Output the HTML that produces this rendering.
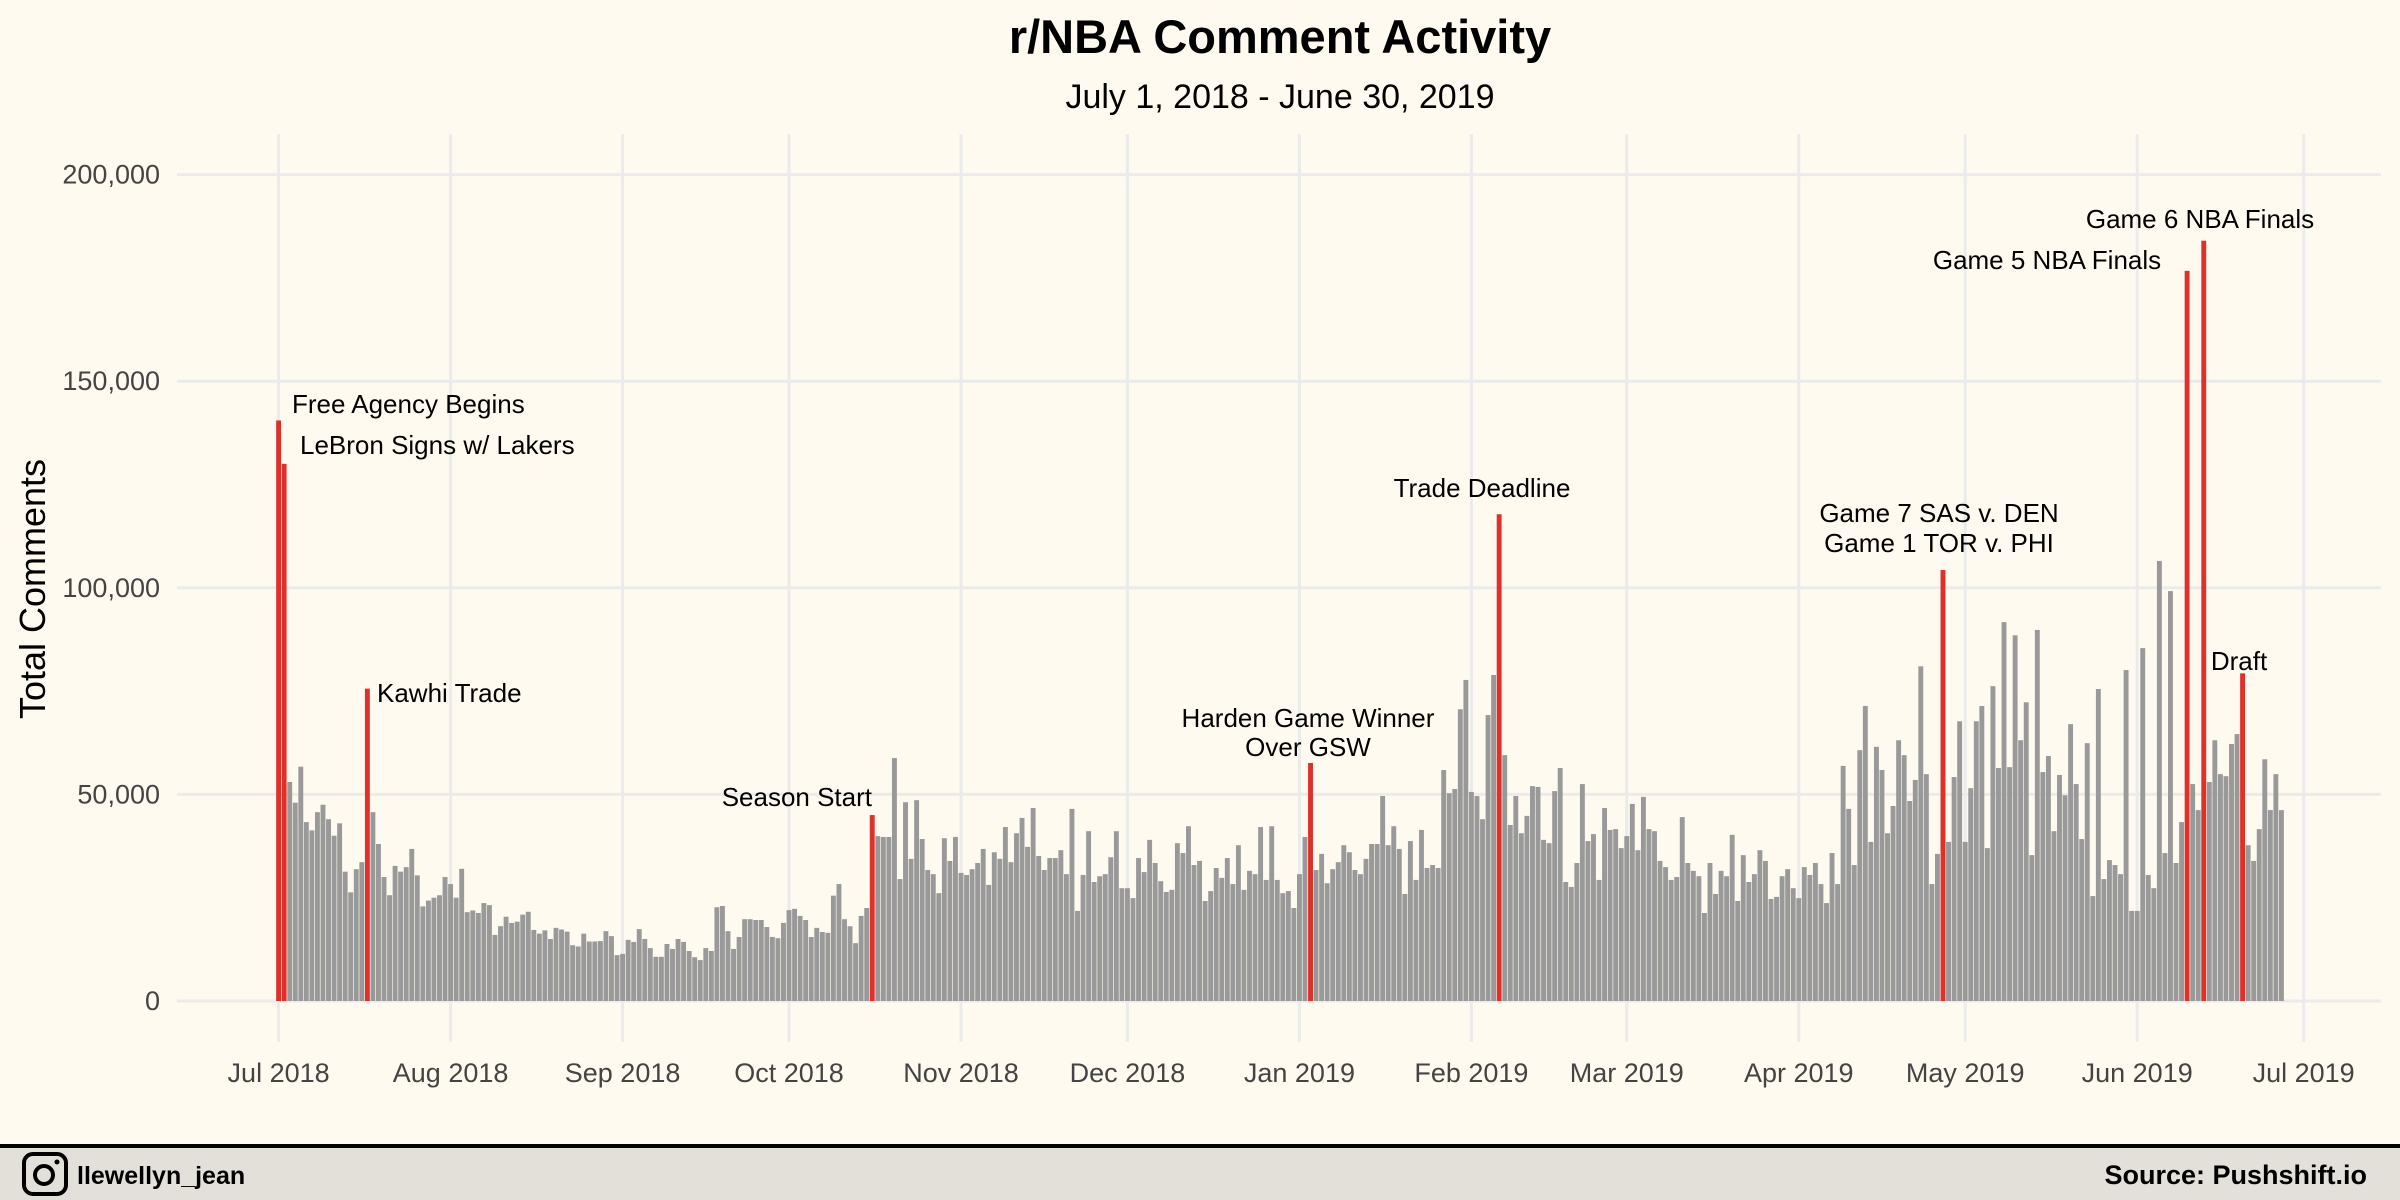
<!DOCTYPE html>
<html><head><meta charset="utf-8"><style>
html,body{margin:0;padding:0;background:#fffaf0;}
svg{display:block;font-family:"Liberation Sans",sans-serif;}
</style></head><body>
<svg id="chart" width="2400" height="1200" viewBox="0 0 2400 1200" xmlns="http://www.w3.org/2000/svg">
<rect x="0" y="0" width="2400" height="1200" fill="#fffaf0"/>
<g id="grid"></g>
<g id="bars"></g>
<g id="axes"></g>
<text x="1280" y="53" text-anchor="middle" font-size="47" font-weight="bold" fill="#000">r/NBA Comment Activity</text>
<text x="1280" y="108" text-anchor="middle" font-size="34" fill="#000">July 1, 2018 - June 30, 2019</text>
<text transform="translate(45,589) rotate(-90)" text-anchor="middle" font-size="36" fill="#000">Total Comments</text>
<g id="annotations" font-size="26" fill="#000">
<text x="292" y="413">Free Agency Begins</text>
<text x="300" y="454">LeBron Signs w/ Lakers</text>
<text x="377" y="702">Kawhi Trade</text>
<text x="872" y="806" text-anchor="end">Season Start</text>
<text x="1308" y="727" text-anchor="middle">Harden Game Winner</text>
<text x="1308" y="756" text-anchor="middle">Over GSW</text>
<text x="1482" y="497" text-anchor="middle">Trade Deadline</text>
<text x="1939" y="522" text-anchor="middle">Game 7 SAS v. DEN</text>
<text x="1939" y="552" text-anchor="middle">Game 1 TOR v. PHI</text>
<text x="2047" y="269" text-anchor="middle">Game 5 NBA Finals</text>
<text x="2200" y="228" text-anchor="middle">Game 6 NBA Finals</text>
<text x="2239" y="670" text-anchor="middle">Draft</text>
</g>
<rect x="0" y="1144" width="2400" height="4" fill="#000"/>
<rect x="0" y="1148" width="2400" height="52" fill="#e3e0da"/>
<g>
<rect x="24" y="1154" width="42" height="40" rx="9" fill="none" stroke="#000" stroke-width="4"/>
<circle cx="44" cy="1175" r="9" fill="none" stroke="#000" stroke-width="4"/>
<circle cx="57" cy="1162" r="2.5" fill="#000"/>
</g>
<text x="77" y="1184" font-size="25" font-weight="bold" fill="#000">llewellyn_jean</text>
<text x="2367" y="1184" text-anchor="end" font-size="27" font-weight="bold" fill="#000">Source: Pushshift.io</text>
</svg>
<script>
// daily comment counts in thousands, index 0 = Jul 1 2018
const comments = [
140.5,130,53,48,56.7,43.3,41.3,45.7,47.5,44,40,43,31.3,26.3,31.9,33.6,75.6,45.7,38,30,
25.6,32.7,31.3,32.4,36.8,30.4,22.9,24.3,25,25.6,30,28.3,25,32,21.5,21.9,21.3,23.7,23.2,16,
18.1,20.4,18.9,19.2,20.9,21.6,17.2,16.3,17.1,15,17.7,17.3,16.8,13.5,13.2,16.3,14.4,14.4,
14.5,16.9,15.7,11.1,11.4,14.8,14.3,17.4,15,12.8,10.7,10.7,13.8,12.6,15,14.3,12.1,10.6,9.9,12.8,
12.1,22.7,23,16.9,12.6,15.5,19.8,19.8,19.6,19.6,17.9,15.5,15.2,18.9,22,22.3,20.6,19.6,15.5,17.7,
16.7,16.5,25.5,28.3,19.8,18.1,14,20.6,22.5,45,39.9,39.7,39.7,58.8,29.5,48.1,34.4,48.6,39.2,31.7,
30.7,26.1,
39.4,33.9,39.7,31,30.5,31.9,33.4,36.8,28.1,36,34.4,42.1,33.6,40.6,44.3,37.3,46.7,35.1,31.7,34.6,
34.6,36.5,30.7,46.5,21.8,30.5,41.1,28.8,30.2,30.7,34.8,41.1,27.3,27.3,24.9,34.6,31.2,39,33.4,29,
26.4,26.9,38.2,35.8,42.3,32.9,33.9,24.2,26.6,32.2,29.8,34.6,28.3,37.7,26.9,31.5,30.7,42.1,29.3,42.3,
29.3,26.1,26.6,22.5,30.7,39.7,57.6,31.7,35.6,28.5,31.9,33.6,37.7,36,31.7,30.7,34.4,38,38,49.6,
37.7,42.3,36.8,25.9,38.7,29.3,41.4,32.2,32.9,32.2,55.9,50.3,51.3,70.6,77.7,50.6,49.6,44,69.2,78.9,
117.8,59.5,42.6,49.6,40.6,44.8,52,51.8,39,38.2,50.8,56.4,28.8,27.6,33.4,52.5,38.7,40.4,29.3,46.7,
41.4,
41.6,37,39.9,47.7,36.5,49.4,41.6,41.1,33.9,32.4,29.3,30,44.5,33.4,31.5,30.2,21.3,33.4,25.9,31.5,
30.2,40.2,24.2,35.3,28.8,30.7,36.5,33.9,24.7,25.2,30.2,31.9,27.3,24.9,32.4,30.5,33.4,28.3,23.7,35.8,
28.3,56.9,46.5,32.9,60.7,71.4,38.5,61.5,55.9,40.6,47.2,63.1,59.5,48.4,53.5,81,54.9,28.3,35.6,
104.3,38.5,54.2,67.7,38.5,51.5,67.7,71.4,37,76.2,56.4,91.7,56.6,88.5,63.1,72.3,35.3,89.8,55.4,59.3,41.1,
54.7,49.8,67,52.5,39.2,62.4,25.4,75.5,29.5,34.1,32.9,30.7,80.1,21.8,21.8,85.4,30.5,27.3,106.5,35.8,
99.2,33.4,43.3,176.7,52.5,46.2,184,53,63.1,54.9,54.4,62.2,64.6,79.3,37.7,33.9,41.6,58.5,46.2,54.9,46.2
];
// indices of highlighted (event) days
const eventDays = [0,1,16,107,186,220,300,344,347,354];
const yTicks = [0,50,100,150,200];
const yTickLabels = ["0","50,000","100,000","150,000","200,000"];
const xTickDays = [0,31,62,92,123,153,184,215,243,274,304,335,365];
const xTickLabels = ["Jul 2018","Aug 2018","Sep 2018","Oct 2018","Nov 2018","Dec 2018","Jan 2019","Feb 2019","Mar 2019","Apr 2019","May 2019","Jun 2019","Jul 2019"];

const NS = "http://www.w3.org/2000/svg";
const X0 = 278.6, DAY = 5.548, Y0 = 1001, PXK = 206.6/50;
function xScale(d){ return X0 + d*DAY; }
function yScale(v){ return Y0 - v*PXK; }
function mk(tag, attrs, parent){
  const e = document.createElementNS(NS, tag);
  for (const k in attrs) e.setAttribute(k, attrs[k]);
  parent.appendChild(e); return e;
}
const grid = document.getElementById('grid');
const axes = document.getElementById('axes');
const bars = document.getElementById('bars');

yTicks.forEach((t,i)=>{
  const y = yScale(t);
  const l = mk('line',{x1:177,x2:2381,y1:y,y2:y,stroke:'#ebebeb','stroke-width':3},grid);
  
  
  const tx = mk('text',{x:160,y:y+9,'text-anchor':'end','font-size':27,fill:'#444'},axes);
  tx.textContent = yTickLabels[i];
  
  
});
xTickDays.forEach((d,i)=>{
  const x = xScale(d);
  const l = mk('line',{x1:x,x2:x,y1:134,y2:1042,stroke:'#ebebeb','stroke-width':3},grid);
  
  
  const tx = mk('text',{x:x,y:1082,'text-anchor':'middle','font-size':27,fill:'#444'},axes);
  tx.textContent = xTickLabels[i];
  
  
});
const BW = 4.9;
comments.forEach((v,i)=>{
  const isEvent = eventDays.indexOf(i) >= 0;
  const x = xScale(i) - BW/2;
  const y = yScale(v);
  const r = mk('rect',{x:x,y:y,width:BW,height:Y0-y,fill:isEvent?'#e0302a':'#999999'},bars);
  
  
});
</script>
</body></html>
